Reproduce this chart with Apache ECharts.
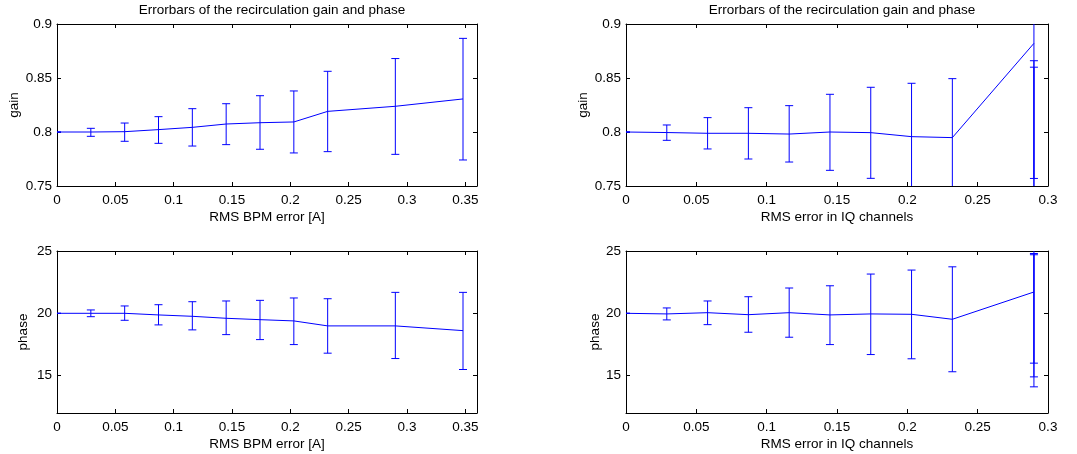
<!DOCTYPE html>
<html>
<head>
<meta charset="utf-8">
<script src="https://cdn.jsdelivr.net/npm/echarts@6/dist/echarts.min.js"></script>
<style>html,body{margin:0;padding:0;background:#fff}#c{width:1077px;height:454px}</style>
</head>
<body>
<div id="c"></div>
<script>
// ---- data ----
const titleText = 'Errorbars of the recirculation gain and phase';
const bpmX = [0, 0.029, 0.058, 0.087, 0.116, 0.145, 0.174, 0.203, 0.232, 0.29, 0.348];
const bpmGain   = [0.8, 0.8, 0.8003, 0.8022, 0.8043, 0.8074, 0.8086, 0.8093, 0.8191, 0.8238, 0.8306];
const bpmGainLo = [0.8, 0.796, 0.7914, 0.7895, 0.787, 0.7883, 0.784, 0.7806, 0.7818, 0.7793, 0.7741];
const bpmGainHi = [0.8, 0.8034, 0.8083, 0.8142, 0.8216, 0.8262, 0.8336, 0.838, 0.8562, 0.868, 0.8867];
const bpmPhase   = [20, 20.0, 20.0, 19.87, 19.76, 19.6, 19.49, 19.39, 18.99, 18.99, 18.61];
const bpmPhaseLo = [20, 19.73, 19.44, 19.07, 18.67, 18.29, 17.89, 17.49, 16.8, 16.37, 15.49];
const bpmPhaseHi = [20, 20.27, 20.59, 20.69, 20.93, 20.99, 21.04, 21.23, 21.17, 21.68, 21.68];

const iqX = [0, 0.029, 0.058, 0.087, 0.116, 0.145, 0.174, 0.203, 0.232, 0.29];
const iqGain   = [0.8, 0.7995, 0.7988, 0.7988, 0.7981, 0.8, 0.7994, 0.7957, 0.7948, 0.8821];
const iqGainLo = [0.8, 0.7923, 0.7843, 0.775, 0.7722, 0.7645, 0.7571, 0.7463, 0.740, 0.757];
const iqGainHi = [0.8, 0.8065, 0.8133, 0.8225, 0.8244, 0.8349, 0.8414, 0.8451, 0.8494, 1.007];
const iqGainExtraX  = [0.29, 0.29];
const iqGainExtraLo = [0.734, 0.74];
const iqGainExtraHi = [0.866, 0.86];
const iqPhase   = [20, 19.95, 20.05, 19.89, 20.05, 19.87, 19.95, 19.92, 19.52, 21.71];
const iqPhaseLo = [20, 19.47, 19.09, 18.48, 18.08, 17.49, 16.69, 16.35, 15.31, 14.1];
const iqPhaseHi = [20, 20.43, 20.99, 21.33, 22.03, 22.21, 23.15, 23.47, 23.73, 29.3];
const iqPhaseExtraX  = [0.29, 0.29];
const iqPhaseExtraLo = [14.9, 16.0];
const iqPhaseExtraHi = [24.8, 24.7];

const bpmTicks = [0, 0.05, 0.1, 0.15, 0.2, 0.25, 0.3, 0.35];
const iqTicks = [0, 0.05, 0.1, 0.15, 0.2, 0.25, 0.3];
const gainTicks = [0.75, 0.8, 0.85, 0.9];
const phaseTicks = [15, 20, 25];
const xNameBpm = 'RMS BPM error [A]';
const xNameIq = 'RMS error in IQ channels';

// ---- build ----
const FONT = 'Liberation Sans, Arial, sans-serif';
const FS = 13.5;
const BLUE = '#0000ff';
const fmt = v => String(+(+v).toFixed(3));

const grids = [
  {left: 57, top: 24, width: 420, height: 162},
  {left: 626, top: 24, width: 422, height: 162},
  {left: 57, top: 251, width: 420, height: 162},
  {left: 626, top: 251, width: 422, height: 162}
];

const panels = [
  {xmax: 0.36, xt: bpmTicks, xname: xNameBpm, ymin: 0.75, ymax: 0.9, yt: gainTicks, yname: 'gain', ygap: 36},
  {xmax: 0.3, xt: iqTicks, xname: xNameIq, ymin: 0.75, ymax: 0.9, yt: gainTicks, yname: 'gain', ygap: 36},
  {xmax: 0.36, xt: bpmTicks, xname: xNameBpm, ymin: 12, ymax: 25, yt: phaseTicks, yname: 'phase', ygap: 27},
  {xmax: 0.3, xt: iqTicks, xname: xNameIq, ymin: 12, ymax: 25, yt: phaseTicks, yname: 'phase', ygap: 24}
];

const xAxes = [], yAxes = [];
const lineAx = {show: true, onZero: false, lineStyle: {color: '#000', width: 1}};
panels.forEach((p, i) => {
  xAxes.push({
    type: 'value', gridIndex: i, min: 0, max: p.xmax, position: 'bottom',
    axisLine: lineAx, splitLine: {show: false},
    axisTick: {inside: true, length: 4, customValues: p.xt, lineStyle: {color: '#000'}},
    axisLabel: {customValues: p.xt, formatter: fmt, color: '#000', fontFamily: FONT, fontSize: FS, margin: 7},
    name: p.xname, nameLocation: 'middle', nameGap: 24,
    nameTextStyle: {color: '#000', fontFamily: FONT, fontSize: FS}
  });
  xAxes.push({
    type: 'value', gridIndex: i, min: 0, max: p.xmax, position: 'top',
    axisLine: lineAx, splitLine: {show: false},
    axisTick: {inside: true, length: 4, customValues: p.xt, lineStyle: {color: '#000'}},
    axisLabel: {show: false, customValues: p.xt}
  });
  yAxes.push({
    type: 'value', gridIndex: i, min: p.ymin, max: p.ymax, position: 'left',
    axisLine: lineAx, splitLine: {show: false},
    axisTick: {inside: true, length: 4, customValues: p.yt, lineStyle: {color: '#000'}},
    axisLabel: {customValues: p.yt, formatter: fmt, color: '#000', fontFamily: FONT, fontSize: FS, margin: 5},
    name: p.yname, nameLocation: 'middle', nameGap: p.ygap, nameRotate: 90,
    nameTextStyle: {color: '#000', fontFamily: FONT, fontSize: FS}
  });
  yAxes.push({
    type: 'value', gridIndex: i, min: p.ymin, max: p.ymax, position: 'right',
    axisLine: lineAx, splitLine: {show: false},
    axisTick: {inside: true, length: 4, customValues: p.yt, lineStyle: {color: '#000'}},
    axisLabel: {show: false, customValues: p.yt}
  });
});

function zip2(a, b) { return a.map((v, i) => [v, b[i]]); }
function zip3(a, b, c) { return a.map((v, i) => [v, b[i], c[i]]); }

function errRender(params, api) {
  const x = api.value(0), lo = api.value(1), hi = api.value(2);
  const p1 = api.coord([x, lo]), p2 = api.coord([x, hi]);
  const w = 4;
  const st = {stroke: BLUE, lineWidth: 1, fill: null};
  return {type: 'group', children: [
    {type: 'line', shape: {x1: p1[0], y1: p1[1], x2: p2[0], y2: p2[1]}, style: st},
    {type: 'line', shape: {x1: p1[0] - w, y1: p1[1], x2: p1[0] + w, y2: p1[1]}, style: st},
    {type: 'line', shape: {x1: p2[0] - w, y1: p2[1], x2: p2[0] + w, y2: p2[1]}, style: st}
  ]};
}

const series = [];
function addPanel(i, xs, ys, los, his) {
  series.push({type: 'line', xAxisIndex: 2 * i, yAxisIndex: 2 * i, data: zip2(xs, ys),
    symbol: 'none', lineStyle: {color: BLUE, width: 1}, clip: true, animation: false, z: 3});
  series.push({type: 'custom', xAxisIndex: 2 * i, yAxisIndex: 2 * i, data: zip3(xs, los, his),
    renderItem: errRender, encode: {x: 0, y: [1, 2]}, clip: true, animation: false, z: 2});
}
addPanel(0, bpmX, bpmGain, bpmGainLo, bpmGainHi);
addPanel(1, iqX, iqGain, iqGainLo, iqGainHi);
addPanel(2, bpmX, bpmPhase, bpmPhaseLo, bpmPhaseHi);
addPanel(3, iqX, iqPhase, iqPhaseLo, iqPhaseHi);
series.push({type: 'custom', xAxisIndex: 2, yAxisIndex: 2, data: zip3(iqGainExtraX, iqGainExtraLo, iqGainExtraHi),
  renderItem: errRender, encode: {x: 0, y: [1, 2]}, clip: true, animation: false, z: 2});
series.push({type: 'custom', xAxisIndex: 6, yAxisIndex: 6, data: zip3(iqPhaseExtraX, iqPhaseExtraLo, iqPhaseExtraHi),
  renderItem: errRender, encode: {x: 0, y: [1, 2]}, clip: true, animation: false, z: 2});

const chart = echarts.init(document.getElementById('c'), null, {renderer: 'canvas'});
chart.setOption({
  backgroundColor: '#fff',
  animation: false,
  title: [
    {text: titleText, left: 267, top: -2, textAlign: 'center', textStyle: {fontFamily: FONT, fontSize: FS, fontWeight: 'normal', color: '#000'}},
    {text: titleText, left: 837, top: -2, textAlign: 'center', textStyle: {fontFamily: FONT, fontSize: FS, fontWeight: 'normal', color: '#000'}}
  ],
  grid: grids,
  xAxis: xAxes,
  yAxis: yAxes,
  series: series
});
</script>
</body>
</html>
